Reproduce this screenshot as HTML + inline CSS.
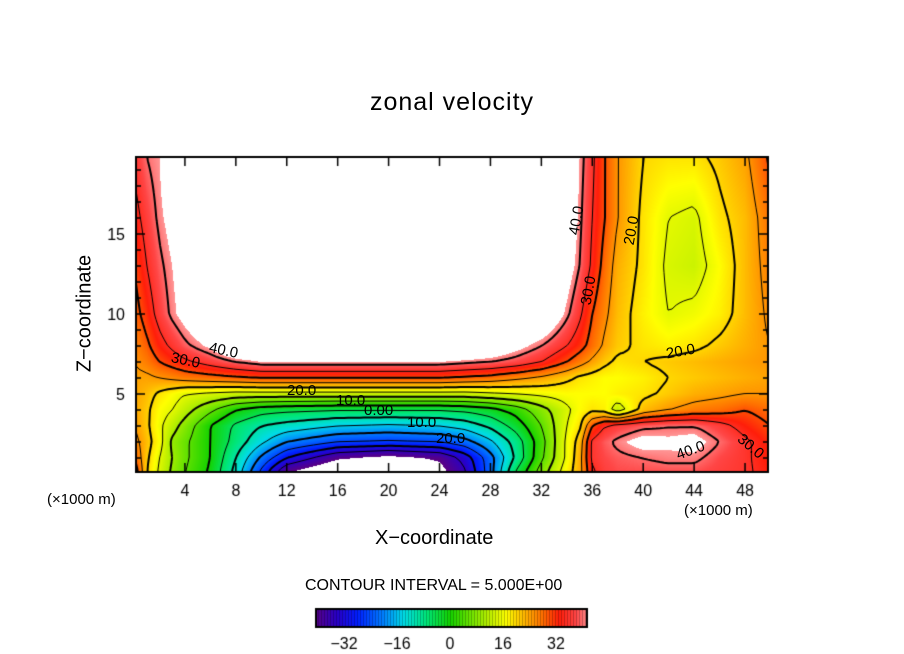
<!DOCTYPE html>
<html><head><meta charset="utf-8">
<style>
body{margin:0;background:#fff;width:904px;height:654px;position:relative;overflow:hidden;font-family:"Liberation Sans",sans-serif;}
.t{position:absolute;color:#000;white-space:nowrap;}
canvas{position:absolute;}
</style></head>
<body>
<div class="t" style="left:0;width:904px;text-align:center;top:88px;font-size:25px;letter-spacing:1px;">zonal velocity</div>
<canvas id="plot" width="904" height="654" style="left:0;top:0"></canvas>
<div class="t" style="left:375px;top:527px;font-size:20px;">X&minus;coordinate</div>
<div class="t" style="left:-5px;top:302px;font-size:20px;transform:rotate(-90deg);width:180px;text-align:center;">Z&minus;coordinate</div>
<div class="t" style="left:47px;top:491px;font-size:15px;">(×1000 m)</div>
<div class="t" style="left:684px;top:502px;font-size:15px;">(×1000 m)</div>
<div class="t" style="left:305px;top:577px;font-size:16px;">CONTOUR INTERVAL = 5.000E+00</div>
<div id="labels"></div>
<script>
// ---- data ----
const xCoords=[0,1,2,3,4,6,8,10,12,16,20,24,26,28,30,32,34,35,36,37,38,40,42,44,46,48,50];
const zCoords=[0,1,2,3,4,5,6,7,8,10,13,16,19.8];
const row_z0   =[35,20,14,9,5,-1,-12,-27,-42,-50,-50,-44,-36,-22,-4,8,18,23,34,37,38,38,38,38,37,36,33];
const row_z1   =[30,21,15,10,6,0,-10,-21,-30,-40,-43,-40,-33,-22,-9,4,16,23,36,38,39,40,41,41,38,36,32];
const row_z2   =[27,22,17,9,6,0,-7,-14,-20,-25,-26,-25,-22,-16,-8,3,16,22,36,39,41,44,43,44,40,36,32];
const row_z3   =[25,21,16,12,8,0,-6,-10,-12,-15,-16,-15,-13,-9,-3,5,15,19,30,35,37,39,40,40,37,33,30];
const row_z4   =[24,21,17,15,12,6,0,-3,-4,-5,-5,-5,-4,-2,2,8,14,17,19,18,12,22,25,27,28,30,28];
const row_z5   =[24,22,19,17,15,14,13,13,13,13,13,13,13,14,15,16,17,17,17,17,18,19,21,23,24,25,25];
const row_z6   =[24,24,25,26,27,28,29,30,30,30,30,30,29,28,26,24,21,19,18,17,17,18,20,21,22,23,24];
const row_z7   =[25,27,30,32,34,37,40,42,42,42,42,42,41,40,38,35,30,27,24,21,19,20,21,22,23,24,25];
const row_z8   =[26,29,33,36,39,43,50,50,50,50,50,50,50,48,44,40,35,32,28,24,21,19,18,19,21,23,25];
const row_z10  =[28,32,37,41,44,50,50,50,50,50,50,50,50,50,50,50,41,36,30,26,22,18,15,16,18,22,26];
const row_z13  =[30,35,39,42,45,50,50,50,50,50,50,50,50,50,50,50,45,40,34,28,23,19,14,13,17,22,27];
const row_z16  =[33,37,41,44,50,50,50,50,50,50,50,50,50,50,50,50,48,41,35,30,25,19,15,14,19,22,28];
const row_z20  =[36,40,42,48,50,50,50,50,50,50,50,50,50,50,50,50,50,42,36,30,25,20,19,19,21,24,31];
const rows=[row_z0,row_z1,row_z2,row_z3,row_z4,row_z5,row_z6,row_z7,row_z8,row_z10,row_z13,row_z16,row_z20];
const xTicks=[4,8,12,16,20,24,28,32,36,40,44,48];
const zTicks=[5,10,15];
const cbTicks=[-32,-16,0,16,32];
const contourLevels=[-35,-30,-25,-20,-15,-10,-5,0,5,10,15,20,25,30,35,40];

// ---- axes ----
const PX0=136,PX1=768,PY0=157,PY1=472;
const sx=v=>134+(v)*12.73;
const sz=v=>474-v*16;
const ix=p=>(p-134)/12.73;
const iz=p=>(474-p)/16;

function seg(arr,v){let i=0;while(i<arr.length-2&&v>arr[i+1])i++;let t=(v-arr[i])/(arr[i+1]-arr[i]);return [i,Math.max(0,Math.min(1,t))];}
function field(x,z){
  const [i,tx]=seg(xCoords,x);const [j,tz]=seg(zCoords,z);
  const a=rows[j][i],b=rows[j][i+1],c=rows[j+1][i],d=rows[j+1][i+1];
  return (a*(1-tx)+b*tx)*(1-tz)+(c*(1-tx)+d*tx)*tz;
}
const stops=[[-41,[90,0,130]],[-34,[40,0,200]],[-28,[0,30,255]],[-20,[0,130,255]],[-14,[0,220,230]],[-7,[0,230,120]],[0,[20,210,0]],[7,[120,230,0]],[12,[190,240,0]],[17,[255,255,0]],[23,[255,175,0]],[28,[255,110,0]],[33,[255,30,10]],[38,[255,70,70]],[42,[255,150,150]]];
function cmap(v){
  if(v<stops[0][0])return null;if(v>stops[stops.length-1][0])return null;
  for(let k=0;k<stops.length-1;k++){if(v<=stops[k+1][0]){const t=(v-stops[k][0])/(stops[k+1][0]-stops[k][0]);const a=stops[k][1],b=stops[k+1][1];return `rgb(${Math.round(a[0]+(b[0]-a[0])*t)},${Math.round(a[1]+(b[1]-a[1])*t)},${Math.round(a[2]+(b[2]-a[2])*t)})`;}}
}
const cv=document.getElementById('plot');const ctx=cv.getContext('2d');
const S=1;
for(let py=PY0;py<PY1;py+=S){for(let px=PX0;px<PX1;px+=S){const v=field(ix(px+S/2),iz(py+S/2));const c=cmap(v);if(c){ctx.fillStyle=c;ctx.fillRect(px,py,S,S);}}}
// contours (marching squares)
const C=4;const nx=Math.ceil((PX1-PX0)/C),nz=Math.ceil((PY1-PY0)/C);
const G=[];for(let j=0;j<=nz;j++){G.push([]);for(let i=0;i<=nx;i++){G[j].push(field(ix(Math.min(PX1,PX0+i*C)),iz(Math.min(PY1,PY0+j*C))));}}
ctx.save();ctx.beginPath();ctx.rect(PX0,PY0,PX1-PX0,PY1-PY0);ctx.clip();
contourLevels.forEach(L=>{
  ctx.beginPath();
  for(let j=0;j<nz;j++)for(let i=0;i<nx;i++){
    const x0=PX0+i*C,y0=PY0+j*C;
    const v=[G[j][i],G[j][i+1],G[j+1][i+1],G[j+1][i]];
    const p=[[x0,y0],[x0+C,y0],[x0+C,y0+C],[x0,y0+C]];
    const pts=[];
    for(let e=0;e<4;e++){const a=v[e],b=v[(e+1)%4];if((a<L)!==(b<L)){const t=(L-a)/(b-a);pts.push([p[e][0]+(p[(e+1)%4][0]-p[e][0])*t,p[e][1]+(p[(e+1)%4][1]-p[e][1])*t]);}}
    for(let k=0;k+1<pts.length;k+=2){ctx.moveTo(pts[k][0],pts[k][1]);ctx.lineTo(pts[k+1][0],pts[k+1][1]);}
  }
  ctx.lineWidth=(L%10===0)?2:1;ctx.strokeStyle='#000';
  ctx.setLineDash(L<0?[6,4]:[]);ctx.stroke();
});
ctx.restore();ctx.setLineDash([]);
// frame + ticks
ctx.strokeStyle='#000';ctx.lineWidth=2;ctx.strokeRect(PX0,PY0,PX1-PX0,PY1-PY0);
ctx.lineWidth=1.5;ctx.beginPath();
for(let x=1;x<50;x++){const p=sx(x);const len=(x%4===0)?9:0;if(!len)continue;ctx.moveTo(p,PY1);ctx.lineTo(p,PY1-len);ctx.moveTo(p,PY0);ctx.lineTo(p,PY0+len);}
for(let z=1;z<20;z++){const p=sz(z);const len=(z%5===0)?9:5;ctx.moveTo(PX0,p);ctx.lineTo(PX0+len,p);ctx.moveTo(PX1,p);ctx.lineTo(PX1-len,p);}
ctx.stroke();
ctx.fillStyle='#000';ctx.font='16px "Liberation Sans", sans-serif';ctx.textAlign='center';
xTicks.forEach(x=>ctx.fillText(String(x),sx(x),496));
ctx.textAlign='right';zTicks.forEach(z=>ctx.fillText(String(z),125,sz(z)+6));
// colorbar
const CB0=316,CB1=587,CBY=609,CBH=18;const cbv=p=>(p-450)/3.31;
for(let p=CB0;p<CB1;p++){const v=cbv(p+0.5);ctx.fillStyle=cmap(Math.max(-40.9,Math.min(41.9,v)));ctx.fillRect(p,CBY,1,CBH);if(p%3===0){ctx.fillStyle='rgba(0,0,0,0.25)';ctx.fillRect(p,CBY,1,CBH);}}
ctx.lineWidth=2;ctx.strokeStyle='#000';ctx.strokeRect(CB0,CBY,CB1-CB0,CBH);
ctx.fillStyle='#000';ctx.textAlign='center';
cbTicks.forEach(v=>ctx.fillText(String(v).replace('-','\u2212'),450+v*3.31,649));
// contour labels
const labs=[["40.0",225,352,12],["30.0",187,362,12],["20.0",303,392,0],["10.0",352,402,0],["0.00",380,412,0],["10.0",423,424,0],["20.0",452,440,0],["40.0",578,222,-80],["30.0",590,292,-80],["20.0",633,232,-80],["20.0",682,353,-10],["40.0",692,452,-20],["30.0",752,448,40]];
const L=document.getElementById('labels');
labs.forEach(l=>{const d=document.createElement('div');d.className='t';


d.textContent=l[0];d.style.left=(l[1]-16)+'px';d.style.top=(l[2]-10)+'px';d.style.fontSize='15px';d.style.transform='rotate('+l[3]+'deg)';L.appendChild(d);});
</script>
</body></html>
